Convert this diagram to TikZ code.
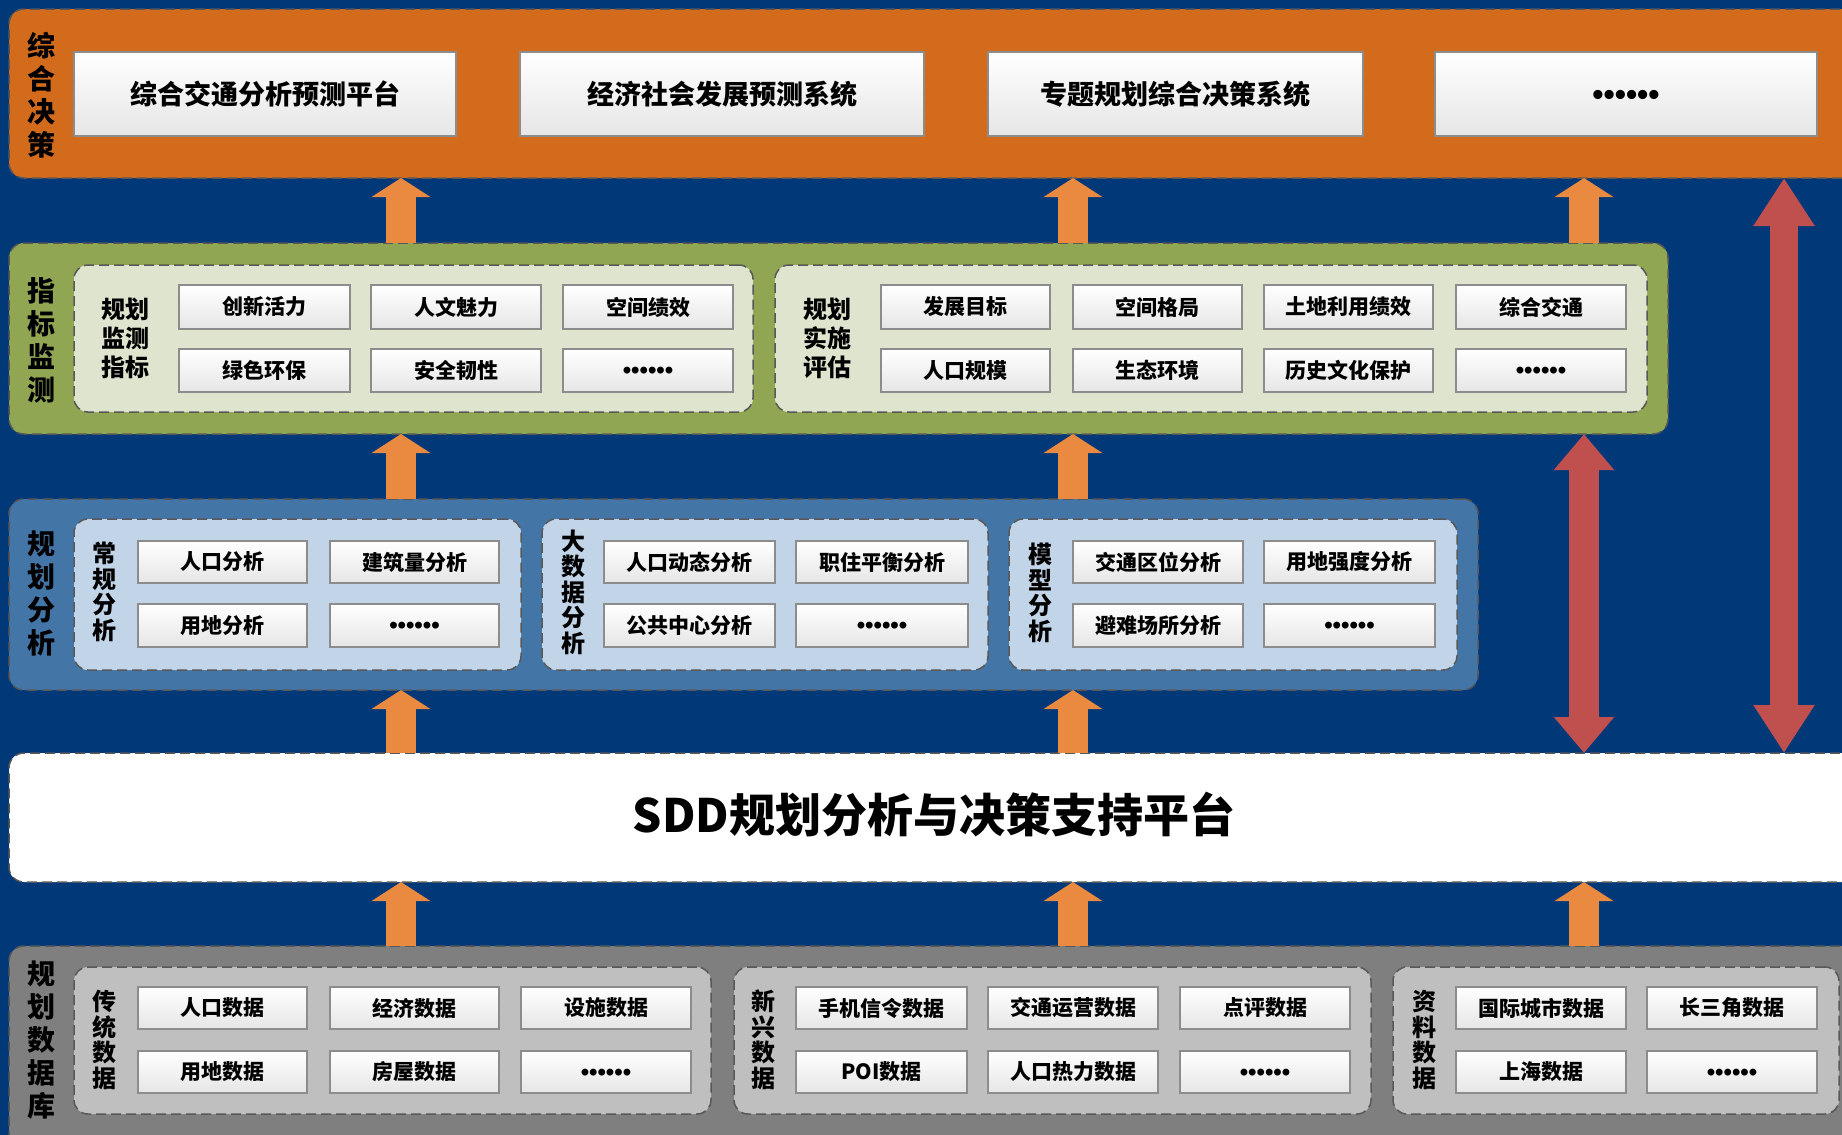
\documentclass[tikz,border=0pt]{standalone}
\usepackage{fontspec}
\setmainfont{Noto Sans CJK SC}
\newfontfamily\dotfont{Liberation Sans}
\usetikzlibrary{arrows.meta,fit,calc}
\definecolor{bg}{RGB}{0,56,120}
\definecolor{decor}{RGB}{210,108,28}
\definecolor{grnband}{RGB}{145,166,82}
\definecolor{grnpanel}{RGB}{222,228,206}
\definecolor{bluband}{RGB}{67,118,167}
\definecolor{blupanel}{RGB}{194,213,232}
\definecolor{datband}{RGB}{127,127,127}
\definecolor{datpanel}{RGB}{191,191,191}
\definecolor{oarrow}{RGB}{233,138,64}
\definecolor{rarrow}{RGB}{192,80,77}
\definecolor{dashc}{RGB}{88,88,88}
\definecolor{cellborder}{RGB}{140,140,140}
\newcommand\cellbox[7][cellfont]{\node[cell, fit={(#3,#4) (#5,#6)}, label={[#1]center:#7}] (#2) {};}
\newcommand\dotsix{••••••}
\begin{document}
\begin{tikzpicture}[x=0.5pt,y=-0.5pt,
  band/.style={draw=dashc, dash pattern=on 5pt off 2.5pt, line width=0.75pt, rounded corners=7.5pt, inner sep=0pt, outer sep=0pt},
  panel/.style={draw=dashc, dash pattern=on 5pt off 2.5pt, line width=0.75pt, rounded corners=7pt, inner sep=0pt, outer sep=0pt},
  cell/.style={draw=cellborder, line width=0.75pt, top color=white, bottom color=black!10, inner sep=0pt, outer sep=0pt},
  cellfont/.style={font=\bfseries\fontsize{10.5}{12}\selectfont, text=black, inner sep=0pt},
  bigfont/.style={font=\bfseries\fontsize{13.5}{16}\selectfont, text=black, inner sep=0pt},
  dotsmall/.style={font=\dotfont\bfseries\fontsize{12}{12}\selectfont, text=black, inner sep=0pt, yshift=-1.4pt},
  dotbig/.style={font=\dotfont\bfseries\fontsize{16}{16}\selectfont, text=black, inner sep=0pt, yshift=-1.9pt},
  outlab/.style={align=center, font=\bfseries\fontsize{14}{16.5}\selectfont, text=black, inner sep=0pt},
  vlab/.style={align=center, font=\bfseries\fontsize{12}{12.75}\selectfont, text=black, inner sep=0pt},
  hlab/.style={align=center, font=\bfseries\fontsize{12}{14.5}\selectfont, text=black, inner sep=0pt},
  oarr/.style={draw=oarrow, line width=15pt, -{Triangle[width=29pt,length=9.5pt]}},
  rarr/.style={draw=rarrow, line width=15pt, {Triangle[width=29pt,length=18pt]}-{Triangle[width=29pt,length=18pt]}},
  rarrlong/.style={draw=rarrow, line width=14pt, {Triangle[width=29pt,length=24pt]}-{Triangle[width=29pt,length=24pt]}}
]
\useasboundingbox (0,0) rectangle (1842,1135);
\clip (0,0) rectangle (1842,1135);
\fill[bg] (0,0) rectangle (1842,1135);

% ---------- top band: 综合决策
\node[band, fill=decor, fit={(9,9) (1900,178)}] (dec) {};
\node[outlab] (decl) at (41,95) {综\\合\\决\\策};
\cellbox[bigfont]{t1}{74}{52}{456}{136}{综合交通分析预测平台}
\cellbox[bigfont]{t2}{520}{52}{924}{136}{经济社会发展预测系统}
\cellbox[bigfont]{t3}{988}{52}{1363}{136}{专题规划综合决策系统}
\cellbox[dotbig]{t4}{1435}{52}{1817}{136}{\dotsix}

% ---------- green band: 指标监测
\node[band, fill=grnband, fit={(9,243) (1668,434)}] (grn) {};
\node[outlab] (grnl) at (41,340) {指\\标\\监\\测};
\node[panel, fill=grnpanel, fit={(74,265) (753,412)}] (gp1) {};
\node[panel, fill=grnpanel, fit={(775,265) (1647,412)}] (gp2) {};
\node[hlab] (gp1l) at (125,338) {规划\\监测\\指标};
\node[hlab] (gp2l) at (827,338) {规划\\实施\\评估};
\cellbox{g11}{179}{285}{350}{329}{创新活力}
\cellbox{g12}{371}{285}{541}{329}{人文魅力}
\cellbox{g13}{563}{285}{733}{329}{空间绩效}
\cellbox{g14}{179}{349}{350}{392}{绿色环保}
\cellbox{g15}{371}{349}{541}{392}{安全韧性}
\cellbox[dotsmall]{g16}{563}{349}{733}{392}{\dotsix}
\cellbox{g21}{881}{285}{1050}{329}{发展目标}
\cellbox{g22}{1073}{285}{1242}{329}{空间格局}
\cellbox{g23}{1264}{285}{1433}{329}{土地利用绩效}
\cellbox{g24}{1456}{285}{1626}{329}{综合交通}
\cellbox{g25}{881}{349}{1050}{392}{人口规模}
\cellbox{g26}{1073}{349}{1242}{392}{生态环境}
\cellbox{g27}{1264}{349}{1433}{392}{历史文化保护}
\cellbox[dotsmall]{g28}{1456}{349}{1626}{392}{\dotsix}

% ---------- blue band: 规划分析
\node[band, fill=bluband, fit={(9,499) (1478,690)}] (blu) {};
\node[outlab] (blul) at (41,593) {规\\划\\分\\析};
\node[panel, fill=blupanel, fit={(74,519) (521,670)}] (bp1) {};
\node[panel, fill=blupanel, fit={(542,519) (988,670)}] (bp2) {};
\node[panel, fill=blupanel, fit={(1009,519) (1457,670)}] (bp3) {};
\node[vlab] (bp1l) at (104,592) {常\\规\\分\\析};
\node[vlab] (bp2l) at (573,592) {大\\数\\据\\分\\析};
\node[vlab] (bp3l) at (1040,593) {模\\型\\分\\析};
\cellbox{b11}{138}{541}{307}{583}{人口分析}
\cellbox{b12}{330}{541}{499}{583}{建筑量分析}
\cellbox{b13}{138}{604}{307}{647}{用地分析}
\cellbox[dotsmall]{b14}{330}{604}{499}{647}{\dotsix}
\cellbox{b21}{604}{541}{775}{583}{人口动态分析}
\cellbox{b22}{796}{541}{968}{583}{职住平衡分析}
\cellbox{b23}{604}{604}{775}{647}{公共中心分析}
\cellbox[dotsmall]{b24}{796}{604}{968}{647}{\dotsix}
\cellbox{b31}{1073}{541}{1243}{583}{交通区位分析}
\cellbox{b32}{1264}{541}{1435}{583}{用地强度分析}
\cellbox{b33}{1073}{604}{1243}{647}{避难场所分析}
\cellbox[dotsmall]{b34}{1264}{604}{1435}{647}{\dotsix}

% ---------- SDD platform
\node[band, fill=white, fit={(9,753) (1900,882)}] (sdd) {};
\node[font=\bfseries\fontsize{23}{27}\selectfont, text=black, inner sep=0pt] (sddl) at (934,815) {SDD规划分析与决策支持平台};

% ---------- data band: 规划数据库
\node[band, fill=datband, fit={(9,946) (1900,1200)}] (dat) {};
\node[outlab] (datl) at (41,1040) {规\\划\\数\\据\\库};
\node[panel, fill=datpanel, fit={(74,967) (711,1114)}] (dp1) {};
\node[panel, fill=datpanel, fit={(734,967) (1371,1114)}] (dp2) {};
\node[panel, fill=datpanel, fit={(1393,967) (1839,1114)}] (dp3) {};
\node[vlab] (dp1l) at (104,1040) {传\\统\\数\\据};
\node[vlab] (dp2l) at (763,1040) {新\\兴\\数\\据};
\node[vlab] (dp3l) at (1424,1040) {资\\料\\数\\据};
\cellbox{d11}{138}{987}{307}{1029}{人口数据}
\cellbox{d12}{330}{987}{499}{1029}{经济数据}
\cellbox{d13}{521}{987}{691}{1029}{设施数据}
\cellbox{d14}{138}{1051}{307}{1093}{用地数据}
\cellbox{d15}{330}{1051}{499}{1093}{房屋数据}
\cellbox[dotsmall]{d16}{521}{1051}{691}{1093}{\dotsix}
\cellbox{d21}{796}{987}{967}{1029}{手机信令数据}
\cellbox{d22}{988}{987}{1158}{1029}{交通运营数据}
\cellbox{d23}{1180}{987}{1350}{1029}{点评数据}
\cellbox{d24}{796}{1051}{967}{1093}{POI数据}
\cellbox{d25}{988}{1051}{1158}{1093}{人口热力数据}
\cellbox[dotsmall]{d26}{1180}{1051}{1350}{1093}{\dotsix}
\cellbox{d31}{1456}{987}{1626}{1029}{国际城市数据}
\cellbox{d32}{1647}{987}{1817}{1029}{长三角数据}
\cellbox{d33}{1456}{1051}{1626}{1093}{上海数据}
\cellbox[dotsmall]{d34}{1647}{1051}{1817}{1093}{\dotsix}

% ---------- arrows
\coordinate (xa) at (401,0);
\coordinate (xb) at (1073,0);
\coordinate (xc) at (1584,0);
\coordinate (xd) at (1784,0);
\foreach \c in {xa,xb,xc} {
  \draw[oarr] (\c |- dat.north) -- (\c |- sdd.south);
  \draw[oarr] (\c |- grn.north) -- (\c |- dec.south);
}
\foreach \c in {xa,xb} {
  \draw[oarr] (\c |- sdd.north) -- (\c |- blu.south);
  \draw[oarr] (\c |- blu.north) -- (\c |- grn.south);
}
\draw[rarr] (xc |- grn.south) -- (xc |- sdd.north);
\draw[rarrlong] (xd |- dec.south) -- (xd |- sdd.north);
\end{tikzpicture}
\end{document}
